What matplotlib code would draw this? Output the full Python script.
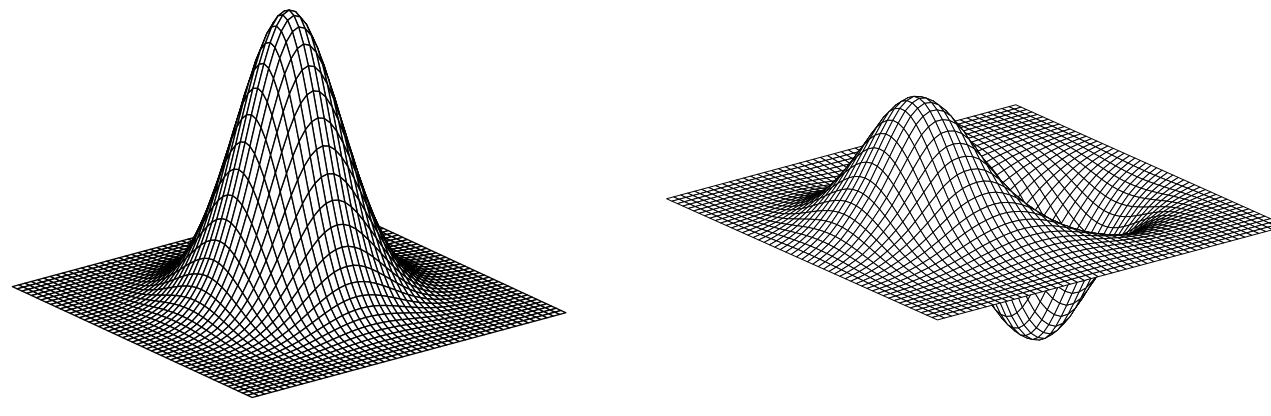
import numpy as np
import matplotlib
matplotlib.use("Agg")
import matplotlib.pyplot as plt
from mpl_toolkits.mplot3d import Axes3D

# heights along one grid line (centre outwards is symmetric)
bump_half = [1.0, 0.989, 0.957, 0.906, 0.839, 0.760, 0.674, 0.585, 0.496, 0.412, 0.335, 0.266, 0.207,
             0.157, 0.117, 0.085, 0.061, 0.042, 0.029, 0.019, 0.012, 0.008, 0.005, 0.003, 0.001, 0.0]
wide_half = [1.0, 0.988, 0.954, 0.899, 0.827, 0.744, 0.653, 0.560, 0.469, 0.383, 0.306, 0.238, 0.182,
             0.135, 0.098, 0.070, 0.048, 0.033, 0.022, 0.014, 0.009, 0.005, 0.003, 0.002, 0.001, 0.0]
slope_half = [0.0, 0.176, 0.346, 0.506, 0.652, 0.78, 0.876, 0.942, 0.982, 0.998, 0.98, 0.936, 0.86,
              0.772, 0.676, 0.58, 0.484, 0.40, 0.324, 0.254, 0.19, 0.134, 0.09, 0.054, 0.024, 0.0]

peak_height = 0.784
lobe_height = 0.36
lobe_up = 0.92
lobe_x = 0.22
lobe_y = 0.97

W, H = 1271, 416


def place(ax, cx, cy, size):
    ax.set_position([(cx - size / 2) / W, 1 - (cy + size / 2) / H, size / W, size / H])


def draw(ax, z, zmin, zmax, elev, azim, zoom, lw):
    n = z.shape[0]
    g = np.linspace(-0.5, 0.5, n)
    x, y = np.meshgrid(g, g, indexing="ij")
    ax.plot_surface(x, y, z, rstride=1, cstride=1, color="white", edgecolor="black",
                    linewidth=lw, shade=False, antialiased=True)
    ax.set_xlim(-0.5, 0.5)
    ax.set_ylim(-0.5, 0.5)
    ax.set_zlim(zmin, zmax)
    ax.set_box_aspect((1, 1, zmax - zmin), zoom=zoom)
    ax.view_init(elev=elev, azim=azim)
    ax.set_proj_type("ortho")
    ax.set_axis_off()


bump = np.array(bump_half[:0:-1] + bump_half)
wide = np.array(wide_half[:0:-1] + wide_half)
slope = np.array([-v for v in slope_half[:0:-1]] + slope_half)

z_left = peak_height * np.outer(bump, bump)
z_right = lobe_height * (lobe_x * np.outer(slope, wide) - lobe_y * np.outer(wide, slope))
z_right[z_right > 0] *= lobe_up

fig = plt.figure(figsize=(W / 100, H / 100), dpi=100)
ax1 = fig.add_subplot(121, projection="3d")
ax2 = fig.add_subplot(122, projection="3d")
draw(ax1, z_left, 0, peak_height, 20.7, -37.4, 1.033, 0.95)
draw(ax2, z_right, -lobe_height, lobe_height, 20.3, -37.8, 1.064, 0.7)
place(ax1, 281, 163, 600)
place(ax2, 968, 221, 640)
fig.savefig("out.png", dpi=100)
